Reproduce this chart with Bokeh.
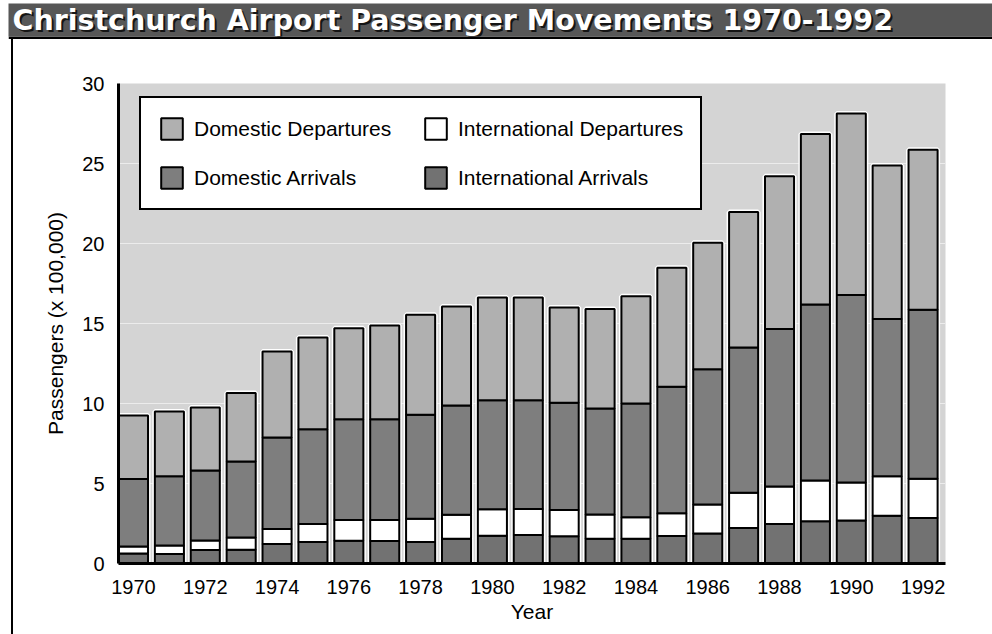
from bokeh.plotting import figure
from bokeh.models import (ColumnDataSource, Legend, LegendItem, FixedTicker, Label,
                          Range1d, Div)
from bokeh.layouts import column, row
from bokeh.embed import file_html
from bokeh.resources import INLINE

# ---------------- data (x 100,000 passengers) ----------------
years = list(range(1970, 1993))
intl_arrivals = [0.63, 0.59, 0.84, 0.86, 1.22, 1.34, 1.42, 1.40, 1.34, 1.55, 1.74, 1.78,
                 1.70, 1.55, 1.55, 1.72, 1.88, 2.22, 2.47, 2.64, 2.68, 2.99, 2.85]
intl_departures = [0.43, 0.54, 0.59, 0.77, 0.94, 1.13, 1.30, 1.32, 1.46, 1.49, 1.65, 1.63,
                   1.65, 1.51, 1.34, 1.42, 1.80, 2.20, 2.34, 2.55, 2.39, 2.47, 2.45]
dom_arrivals = [4.22, 4.33, 4.39, 4.75, 5.71, 5.92, 6.30, 6.30, 6.49, 6.84, 6.82, 6.80,
                6.69, 6.63, 7.11, 7.91, 8.46, 9.08, 9.84, 10.99, 11.71, 9.82, 10.56]
dom_departures = [3.97, 4.04, 3.93, 4.27, 5.38, 5.73, 5.68, 5.86, 6.26, 6.19, 6.42, 6.42,
                  5.96, 6.21, 6.70, 7.43, 7.91, 8.47, 9.55, 10.66, 11.34, 9.60, 10.00]
series_names = ["International Arrivals", "International Departures",
                "Domestic Arrivals", "Domestic Departures"]
y_ticks = [0, 5, 10, 15, 20, 25, 30]
x_ticks = [1970, 1972, 1974, 1976, 1978, 1980, 1982, 1984, 1986, 1988, 1990, 1992]
title_text = "Christchurch Airport Passenger Movements 1970-1992"
y_label = "Passengers (x 100,000)"
x_label = "Year"

# ---------------- styles ----------------
FONT = "Liberation Sans"
C_IA = "#727272"
C_ID = "#ffffff"
C_DA = "#7e7e7e"
C_DD = "#b0b0b0"
BG = "#d4d4d4"

totals = [a + b + c + d for a, b, c, d in zip(intl_arrivals, intl_departures,
                                              dom_arrivals, dom_departures)]
source = ColumnDataSource(data=dict(
    year=years, ia=intl_arrivals, idp=intl_departures, da=dom_arrivals,
    dd=dom_departures, total=totals))

# ---------------- title band ----------------
band = figure(width=984, height=36, output_backend="svg", toolbar_location=None,
              x_range=Range1d(0, 984), y_range=Range1d(0, 33),
              x_axis_type=None, y_axis_type=None,
              min_border_left=0, min_border_right=0, min_border_top=0,
              min_border_bottom=3)
band.background_fill_color = "#575757"
band.border_fill_color = "black"
band.outline_line_color = None
band.grid.visible = False
band.add_layout(Label(x=6, y=14.5, text=title_text, text_font="DejaVu Sans",
                      text_font_style="bold", text_font_size="28.5px",
                      text_color="#151515", text_baseline="middle"))
band.add_layout(Label(x=4, y=16.5, text=title_text, text_font="DejaVu Sans",
                      text_font_style="bold", text_font_size="28.5px",
                      text_color="white", text_baseline="middle"))

# ---------------- main chart ----------------
p = figure(width=979, height=595, output_backend="svg", toolbar_location=None,
           x_range=Range1d(1969.582, 1992.625), y_range=Range1d(0, 30),
           min_border_left=105, min_border_right=47, min_border_top=44,
           min_border_bottom=71)
p.background_fill_color = BG
p.border_fill_color = "white"
p.outline_line_color = None
p.xgrid.grid_line_color = None
p.ygrid.grid_line_color = "#ececec"
p.ygrid.grid_line_width = 1
p.ygrid.ticker = FixedTicker(ticks=y_ticks)

# white halo behind the bars
p.vbar(x="year", top="total", width=0.81, source=source,
       fill_color="white", line_color="white", line_width=5)

rs = p.vbar_stack(["ia", "idp", "da", "dd"], x="year", width=0.81, source=source,
                  fill_color=[C_IA, C_ID, C_DA, C_DD], line_color="black",
                  line_width=2)

legend = Legend(items=[LegendItem(label=series_names[3], renderers=[rs[3]]),
                       LegendItem(label=series_names[2], renderers=[rs[2]]),
                       LegendItem(label=series_names[1], renderers=[rs[1]]),
                       LegendItem(label=series_names[0], renderers=[rs[0]])],
                location=(21, 353), ncols=2, orientation="vertical",
                glyph_width=27, glyph_height=27, label_standoff=9, spacing=22,
                padding=17, margin=0, label_width=206, label_height=27,
                label_text_font=FONT, label_text_font_size="21px",
                label_text_color="black",
                border_line_color="black", border_line_width=2,
                border_line_alpha=1.0,
                background_fill_color="white", background_fill_alpha=1.0)
p.add_layout(legend)

for ax in (p.xaxis[0], p.yaxis[0]):
    ax.axis_line_width = 3
    ax.axis_line_color = "black"
    ax.major_tick_line_color = None
    ax.minor_tick_line_color = None
    ax.major_label_text_font = FONT
    ax.major_label_text_font_size = "20px"
    ax.major_label_text_color = "black"
    ax.axis_label_text_font = FONT
    ax.axis_label_text_font_size = "21px"
    ax.axis_label_text_font_style = "normal"
    ax.axis_label_text_color = "black"

p.yaxis.ticker = FixedTicker(ticks=y_ticks)
p.yaxis.major_label_standoff = 8
p.yaxis.axis_label = y_label
p.yaxis.axis_label_standoff = 12

p.xaxis.ticker = FixedTicker(ticks=x_ticks)
p.xaxis.major_label_overrides = {t: str(t) for t in x_ticks}
p.xaxis.major_label_standoff = 10
p.xaxis.axis_label = x_label
p.xaxis.axis_label_standoff = 3

top_gap = Div(width=992, height=3, margin=0)
band_gap = Div(width=8, height=36, margin=0)
left_gap = Div(width=11, height=595, margin=0)
left_line = Div(width=2, height=595, margin=0, styles={"background-color": "black"})

layout = column(top_gap,
                row(band_gap, band, spacing=0),
                row(left_gap, left_line, p, spacing=0),
                spacing=0)

open("out.html", "w").write(file_html(layout, INLINE))
